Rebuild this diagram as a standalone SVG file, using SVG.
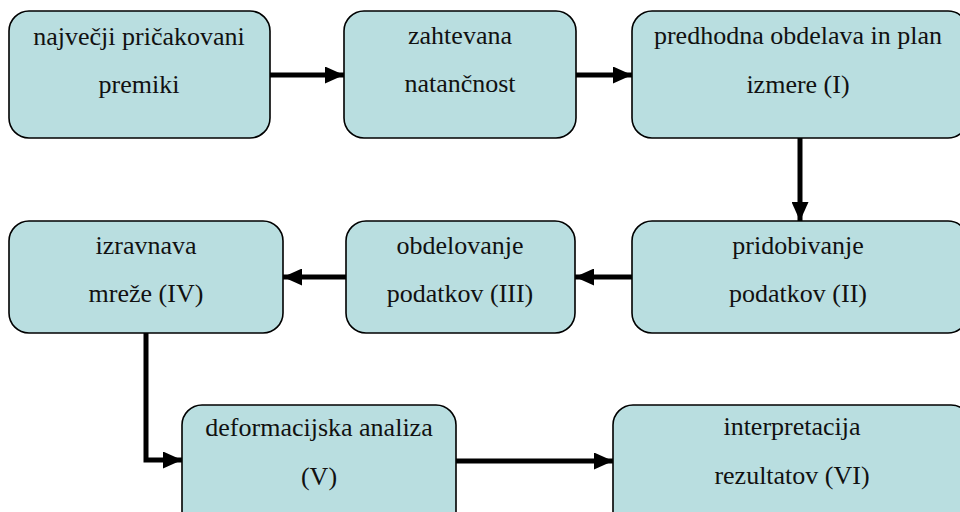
<svg xmlns="http://www.w3.org/2000/svg" width="960" height="512" viewBox="0 0 960 512">
<defs>
<style>
.box{fill:#B9DEE0;stroke:#000;stroke-width:1.6}
.t{font-family:'Liberation Serif','DejaVu Serif',serif;font-size:26px;fill:#111;text-anchor:middle}
.c{fill:none;stroke:#000;stroke-width:5}
</style>
<marker id="ah" viewBox="0 0 19 17" refX="19" refY="8.5" markerWidth="19" markerHeight="17" markerUnits="userSpaceOnUse" orient="auto">
<path d="M0,0 L19,8.5 L0,17 Z" fill="#000"/>
</marker>
</defs>
<rect width="960" height="512" fill="#fff"/>
<g id="connectors">
<path class="c" d="M270,75 H344" marker-end="url(#ah)"/>
<path class="c" d="M576,75 H632" marker-end="url(#ah)"/>
<path class="c" d="M800,138 V221" marker-end="url(#ah)"/>
<path class="c" d="M632,277 H575" marker-end="url(#ah)"/>
<path class="c" d="M346,277 H283" marker-end="url(#ah)"/>
<path class="c" d="M146,333 V460 H182" marker-end="url(#ah)"/>
<path class="c" d="M456,461 H613" marker-end="url(#ah)"/>
</g>
<g id="n1">
<rect class="box" x="9" y="11" width="261" height="127" rx="20"/>
<text class="t" font-family="Liberation Serif, serif" x="139" y="45">največji pričakovani</text>
<text class="t" font-family="Liberation Serif, serif" x="139" y="93">premiki</text>
</g>
<g id="n2">
<rect class="box" x="344" y="11" width="232" height="127" rx="20"/>
<text class="t" font-family="Liberation Serif, serif" x="460" y="44">zahtevana</text>
<text class="t" font-family="Liberation Serif, serif" x="460" y="92">natančnost</text>
</g>
<g id="n3">
<rect class="box" x="632" y="11" width="336" height="127" rx="20"/>
<text class="t" font-family="Liberation Serif, serif" x="798" y="44">predhodna obdelava in plan</text>
<text class="t" font-family="Liberation Serif, serif" x="798" y="93">izmere (I)</text>
</g>
<g id="n4">
<rect class="box" x="632" y="221" width="336" height="112" rx="20"/>
<text class="t" font-family="Liberation Serif, serif" x="798" y="254">pridobivanje</text>
<text class="t" font-family="Liberation Serif, serif" x="798" y="302">podatkov (II)</text>
</g>
<g id="n5">
<rect class="box" x="346" y="221" width="229" height="112" rx="20"/>
<text class="t" font-family="Liberation Serif, serif" x="460" y="254">obdelovanje</text>
<text class="t" font-family="Liberation Serif, serif" x="460" y="302">podatkov (III)</text>
</g>
<g id="n6">
<rect class="box" x="9" y="221" width="274" height="112" rx="20"/>
<text class="t" font-family="Liberation Serif, serif" x="146" y="254">izravnava</text>
<text class="t" font-family="Liberation Serif, serif" x="146" y="302">mreže (IV)</text>
</g>
<g id="n7">
<rect class="box" x="182" y="405" width="274" height="130" rx="20"/>
<text class="t" font-family="Liberation Serif, serif" x="319" y="436">deformacijska analiza</text>
<text class="t" font-family="Liberation Serif, serif" x="319" y="485">(V)</text>
</g>
<g id="n8">
<rect class="box" x="613" y="405" width="358" height="130" rx="20"/>
<text class="t" font-family="Liberation Serif, serif" x="792" y="435">interpretacija</text>
<text class="t" font-family="Liberation Serif, serif" x="792" y="484">rezultatov (VI)</text>
</g>
</svg>
